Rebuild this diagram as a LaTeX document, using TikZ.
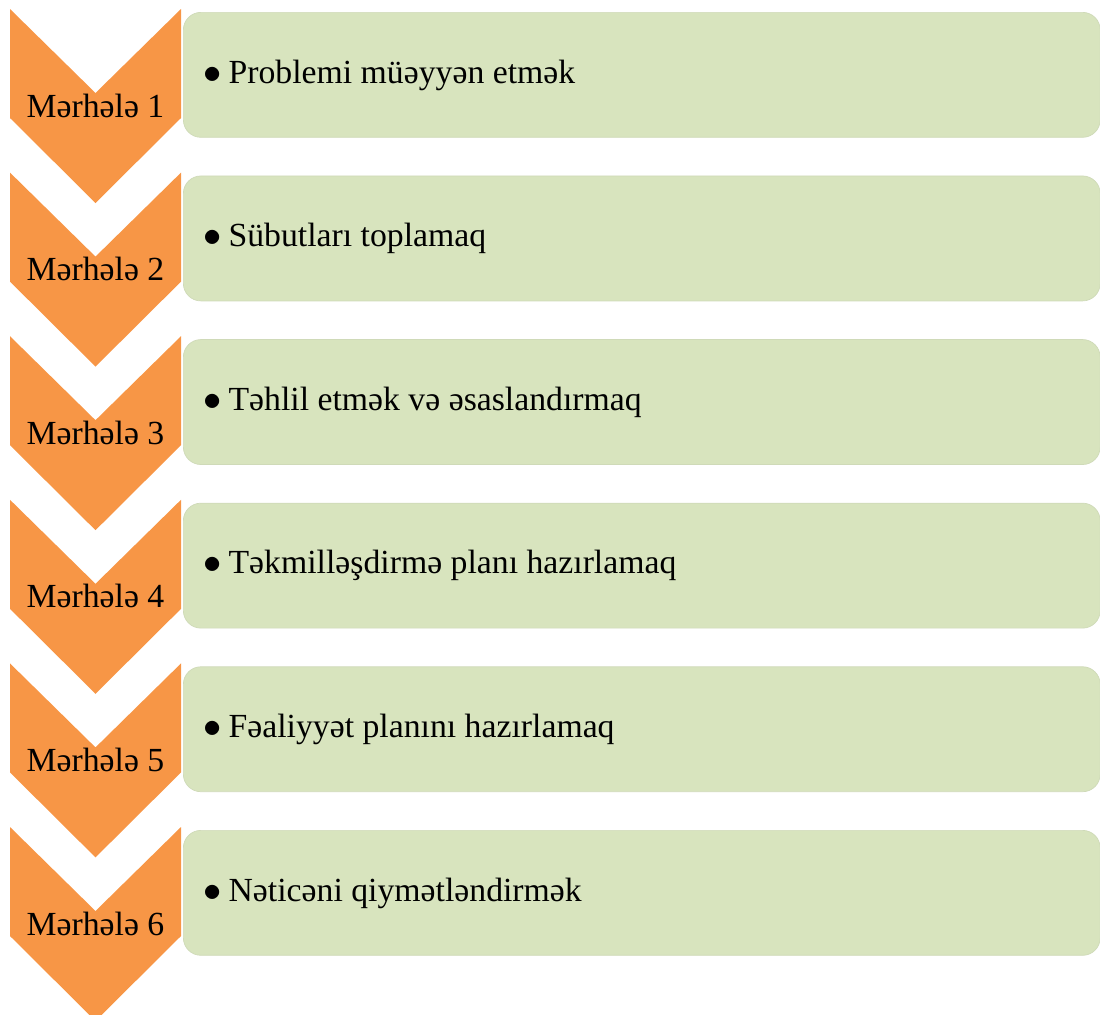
\documentclass[tikz,border=0pt]{standalone}
\usepackage{fontspec}
\setmainfont{Liberation Serif}
\usepackage{tikz}
\usetikzlibrary{positioning, calc}
\definecolor{stageorange}{RGB}{247,150,70}
\definecolor{boxgreen}{RGB}{216,228,190}

\begin{document}
\begin{tikzpicture}[x=0.02cm, y=-0.02cm,
    chevron/.style={fill=stageorange, draw=none},
    greenbox/.style={fill=boxgreen, draw=boxgreen!90!gray, rounded corners=10, minimum width=18.34cm, minimum height=2.5cm, anchor=north west, inner sep=0pt},
    stagelabel/.style={font=\fontsize{19.2}{21}\selectfont, anchor=base},
    itemlabel/.style={font=\fontsize{19.2}{21}\selectfont, anchor=base west, inner sep=0pt}]
\useasboundingbox (0,0) rectangle (1100,1015);

% Stages and their steps
\foreach \i/\txt in {1/Problemi müəyyən etmək, 2/Sübutları toplamaq, 3/Təhlil etmək və əsaslandırmaq, 4/Təkmilləşdirmə planı hazırlamaq, 5/Fəaliyyət planını hazırlamaq, 6/Nəticəni qiymətləndirmək} {
    \pgfmathsetmacro{\top}{9+163.6*(\i-1)}
    \fill[chevron] (10,\top) -- (95.5,\top+84) -- (181,\top) -- (181,\top+109)
        -- (95.5,\top+194) -- (10,\top+109) -- cycle;
    \node[stagelabel] (stage\i) at (95.5,\top+108) {Mərhələ \i};
    \node[greenbox] (box\i) at (183,\top+3) {};
    \node[itemlabel] (item\i) at (203,\top+74) {$\bullet$\hspace{4pt}\txt};
}
\end{tikzpicture}
\end{document}
